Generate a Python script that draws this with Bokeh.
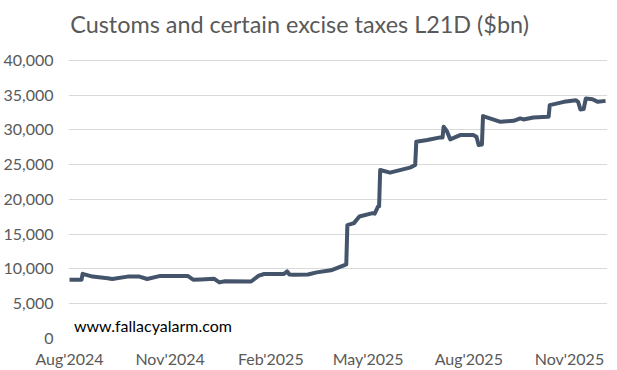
import pandas as pd
from bokeh.plotting import figure
from bokeh.models import (ColumnDataSource, Range1d, FixedTicker, NumeralTickFormatter,
                          DatetimeTickFormatter, Label)
from bokeh.embed import file_html
from bokeh.resources import INLINE

# ---- data ----
dates = [
    "2024-08-01", "2024-08-12", "2024-08-13", "2024-08-22", "2024-09-05", "2024-09-09",
    "2024-09-23", "2024-10-04", "2024-10-11", "2024-10-23", "2024-11-17", "2024-11-22",
    "2024-11-29", "2024-12-11", "2024-12-16", "2024-12-21", "2025-01-14", "2025-01-21",
    "2025-01-26", "2025-02-13", "2025-02-16", "2025-02-18", "2025-02-22", "2025-03-07",
    "2025-03-15", "2025-03-28", "2025-04-10", "2025-04-11", "2025-04-12", "2025-04-18",
    "2025-04-23", "2025-05-05", "2025-05-07", "2025-05-10", "2025-05-11", "2025-05-12",
    "2025-05-21", "2025-06-09", "2025-06-13", "2025-06-14", "2025-06-24", "2025-07-06",
    "2025-07-08", "2025-07-09", "2025-07-12", "2025-07-15", "2025-07-24", "2025-08-05",
    "2025-08-08", "2025-08-10", "2025-08-13", "2025-08-14", "2025-08-30", "2025-09-11",
    "2025-09-17", "2025-09-20", "2025-09-29", "2025-10-12", "2025-10-13", "2025-10-14",
    "2025-10-27", "2025-11-07", "2025-11-09", "2025-11-11", "2025-11-14", "2025-11-16",
    "2025-11-22", "2025-11-27", "2025-12-04",
]
values = [
    8450, 8450, 9300, 8900, 8650, 8550,
    8900, 8900, 8560, 9000, 9000, 8460,
    8500, 8600, 8070, 8220, 8200, 9030,
    9270, 9270, 9650, 9200, 9180, 9200,
    9510, 9800, 10600, 10650, 16300, 16590,
    17540, 18020, 17950, 18970, 19000, 24230,
    23850, 24610, 24950, 28300, 28540, 28920,
    28900, 30440, 29800, 28640, 29250, 29250,
    29000, 27820, 27900, 31980, 31160, 31300,
    31650, 31500, 31790, 31880, 31900, 33560,
    34030, 34270, 34000, 32940, 33000, 34510,
    34400, 34030, 34170,
]
tick_dates = ["2024-08-01", "2024-11-01", "2025-02-01", "2025-05-01", "2025-08-01", "2025-11-01"]
y_ticks = [0, 5000, 10000, 15000, 20000, 25000, 30000, 35000, 40000]
title_text = "Customs and certain excise taxes L21D ($bn)"
watermark = "www.fallacyalarm.com"

x = pd.to_datetime(dates)
src = ColumnDataSource(dict(x=x, y=values))

TXT = "#595959"
FONT = "Lato"

# frame spans the full height above the x axis; the top band above 40,000 holds the title
Y_TOP = 40000 * 339 / 279

p = figure(width=617, height=370, output_backend="svg", toolbar_location=None,
           x_axis_type="datetime",
           x_range=Range1d(pd.Timestamp("2024-07-31 02:00"), pd.Timestamp("2025-12-05 19:00")),
           y_range=Range1d(0, Y_TOP),
           min_border_left=68, min_border_right=10, min_border_top=0, min_border_bottom=0)
p.outline_line_color = None
p.background_fill_color = "white"
p.border_fill_color = "white"

p.line("x", "y", source=src, line_color="#44546A", line_width=4, line_join="round")

tick_ms = [pd.Timestamp(d).value // 10**6 for d in tick_dates]
xa = p.xaxis[0]
xa.axis_label = None
xa.ticker = FixedTicker(ticks=tick_ms)
fmt = "%b'%Y"
xa.formatter = DatetimeTickFormatter(days=fmt, months=fmt, years=fmt)
xa.axis_line_color = None
xa.major_tick_line_color = None
xa.minor_tick_line_color = None
xa.major_tick_out = 0
xa.major_tick_in = 0
xa.major_label_standoff = 10
xa.major_label_text_font = FONT
xa.major_label_text_font_size = "16px"
xa.major_label_text_color = TXT
xa.major_label_text_line_height = 0.9

ya = p.yaxis[0]
ya.axis_label = None
ya.ticker = FixedTicker(ticks=y_ticks)
ya.formatter = NumeralTickFormatter(format="0,0")
ya.axis_line_color = None
ya.major_tick_line_color = None
ya.minor_tick_line_color = None
ya.major_tick_out = 0
ya.major_tick_in = 0
ya.major_label_standoff = 15
ya.major_label_text_font = FONT
ya.major_label_text_font_size = "16px"
ya.major_label_text_color = TXT

p.xgrid.grid_line_color = None
p.ygrid.grid_line_color = "#D9D9D9"
p.ygrid.grid_line_width = 1

# chart title (centred above the plot)
p.add_layout(Label(x=pd.Timestamp("2025-02-27 07:00"), y=40000 * 315 / 279, text=title_text,
                   text_font=FONT, text_font_size="23.4px", text_color=TXT,
                   text_align="center", text_baseline="alphabetic"))

p.add_layout(Label(x=pd.Timestamp("2024-08-05"), y=1850, text=watermark,
                   text_font=FONT, text_font_size="16px", text_color="black",
                   text_baseline="middle", text_align="left"))

open("out.html", "w").write(file_html(p, INLINE))
